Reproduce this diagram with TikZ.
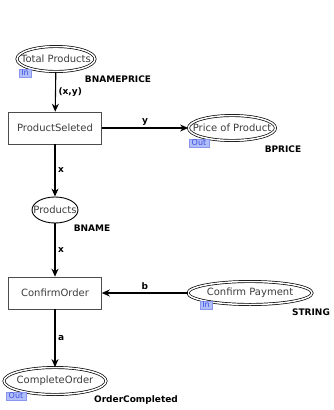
\documentclass[tikz,border=0pt]{standalone}
\usepackage{fontspec}
\setmainfont{DejaVu Sans}
\usetikzlibrary{arrows.meta,shapes.geometric}
\definecolor{tagFill}{RGB}{178,190,250}
\definecolor{tagText}{RGB}{60,80,225}
\definecolor{nodeText}{RGB}{60,60,60}
\newcommand{\ptext}[1]{\makebox[0pt]{#1}}
\tikzset{
    trans/.style={rectangle,draw=black!70,semithick,minimum width=93pt,minimum height=32pt,
        inner sep=0pt,font=\fontsize{10}{11}\selectfont,text=nodeText},
    place/.style={ellipse,draw=black,line width=0.9pt,inner sep=0pt,font=\fontsize{10}{11}\selectfont,text=nodeText},
    port/.style={place,double,double distance=1.5pt,line width=0.7pt},
    tag/.style={rectangle,draw=tagText!60,fill=tagFill,text=tagText,inner xsep=2.5pt,inner ysep=1pt,
        font=\fontsize{8}{8}\selectfont,minimum height=8.5pt},
    colset/.style={font=\bfseries\fontsize{9}{10}\selectfont},
    arr/.style={-{Stealth[length=8pt,width=7pt]},line width=1.1pt},
    lbl/.style={font=\bfseries\fontsize{9}{10}\selectfont,inner sep=2.5pt}
}
\begin{document}
\begin{tikzpicture}[x=1pt,y=-1pt]
    \useasboundingbox (0,0) rectangle (333,410);
    % transitions
    \node[trans] (sel)  at (55,128) {ProductSeleted};
    \node[trans] (conf) at (55,293) {ConfirmOrder};
    % places
    \node[port,minimum width=78pt,minimum height=25pt]  (total)    at (56,59)   {\ptext{Total Products}};
    \node[port,minimum width=87pt,minimum height=25pt]  (price)    at (232,128) {\ptext{Price of Product}};
    \node[place,minimum width=46pt,minimum height=26pt] (products) at (55,210)  {\ptext{Products}};
    \node[port,minimum width=124pt,minimum height=23pt] (pay)      at (250,293) {\ptext{Confirm Payment}};
    \node[port,minimum width=102pt,minimum height=27pt] (done)     at (55,381)  {\ptext{CompleteOrder}};
    % port tags
    \node[tag] (tagTotal) at (25,73)  {In};
    \node[tag] (tagPrice) at (199,143) {Out};
    \node[tag] (tagPay)   at (206,305) {In};
    \node[tag] (tagDone)  at (16,396) {Out};
    % colour sets
    \node[colset] (csTotal)    at (118,79)  {BNAMEPRICE};
    \node[colset] (csPrice)    at (283,149) {BPRICE};
    \node[colset] (csProducts) at (92,228)  {BNAME};
    \node[colset] (csPay)      at (311,312) {STRING};
    \node[colset] (csDone)     at (136,400) {OrderCompleted};

    \draw[arr] (total) -- node[lbl,right]{(x,y)} (sel);
    \draw[arr] (sel) -- node[lbl,above]{y} (price);
    \draw[arr] (sel) -- node[lbl,right]{x} (products);
    \draw[arr] (products) -- node[lbl,right]{x} (conf);
    \draw[arr] (pay) -- node[lbl,above]{b} (conf);
    \draw[arr] (conf) -- node[lbl,right]{a} (done);
\end{tikzpicture}
\end{document}
